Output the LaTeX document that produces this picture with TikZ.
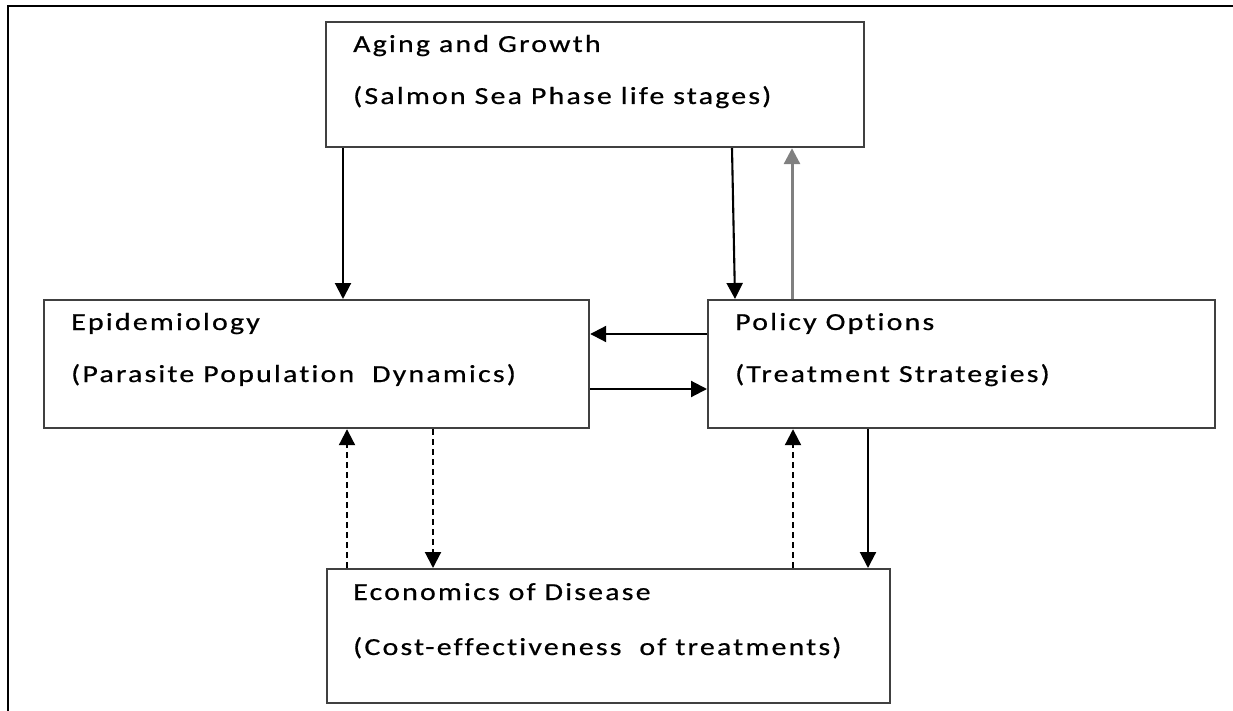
\documentclass[tikz,border=0pt]{standalone}
\usepackage{fontspec}
\setmainfont{Carlito}[FakeStretch=1.22,LetterSpace=9,FakeBold=0.6,Ligatures={NoCommon,NoContextual}]
\usetikzlibrary{arrows.meta,calc}
\tikzset{box/.style={draw=black!75,line width=2.2pt,inner sep=0pt,anchor=north west},
  txt/.style={inner sep=0pt,anchor=base west,font=\fontsize{24.5}{28}\selectfont},
  arr/.style={line width=2.1pt,-{Triangle[width=16pt,length=16pt]}},
  grayarr/.style={arr,draw=black!50,fill=black!50,line width=3pt},
  dsh/.style={arr,dash pattern=on 6pt off 4pt}}
\begin{document}
\begin{tikzpicture}[x=1pt,y=-1pt]
  \useasboundingbox (0,0) rectangle (1233,711);
  \clip (0,0) rectangle (1233,711);
  \draw[line width=2.4pt] (8,6) rectangle (1250,730);
  % boxes
  \node[box,minimum width=538pt,minimum height=125pt] (aging) at (325,21) {};
  \node[box,minimum width=545pt,minimum height=128pt] (epi) at (43,299) {};
  \node[box,minimum width=507pt,minimum height=128pt] (pol) at (707,299) {};
  \node[box,minimum width=563pt,minimum height=134pt] (econ) at (326,568) {};
  % texts
  \node[txt] (aging1) at ([shift={(28pt,-31pt)}]aging.north west) {Aging and Growth};
  \node[txt] (aging2) at ([shift={(28pt,-83pt)}]aging.north west) {(Salmon Sea Phase life stages)};
  \node[txt] (epi1) at ([shift={(28pt,-31pt)}]epi.north west) {Epidemiology};
  \node[txt] (epi2) at ([shift={(28pt,-83pt)}]epi.north west) {(Parasite Population\ \ Dynamics)};
  \node[txt] (pol1) at ([shift={(28pt,-31pt)}]pol.north west) {Policy Options};
  \node[txt] (pol2) at ([shift={(28pt,-83pt)}]pol.north west) {(Treatment Strategies)};
  \node[txt] (econ1) at ([shift={(27pt,-32pt)}]econ.north west) {Economics of Disease};
  \node[txt] (econ2) at ([shift={(27pt,-87pt)}]econ.north west) {(Cost-effectiveness\ \ of treatments)};
  % links
  \draw[arr] ([xshift=18pt]aging.south west) -- ([xshift=18pt]aging.south west |- epi.north);
  \draw[arr] ([xshift=407pt]aging.south west) -- ([xshift=28pt]pol.north west);
  \draw[grayarr] ([xshift=85pt]pol.north west) -- ([xshift=85pt]pol.north west |- aging.south);
  \draw[arr] ([yshift=-35pt]pol.north west) -- ([yshift=-35pt]pol.north west -| epi.east);
  \draw[arr] ([yshift=-90pt]epi.north east) -- ([yshift=-90pt]epi.north east -| pol.west);
  \draw[dsh] ([xshift=21pt]econ.north west) -- ([xshift=21pt]econ.north west |- epi.south);
  \draw[dsh] ([xshift=390pt]epi.south west) -- ([xshift=390pt]epi.south west |- econ.north);
  \draw[dsh] ([xshift=467pt]econ.north west) -- ([xshift=467pt]econ.north west |- pol.south);
  \draw[arr] ([xshift=161pt]pol.south west) -- ([xshift=161pt]pol.south west |- econ.north);
\end{tikzpicture}
\end{document}
